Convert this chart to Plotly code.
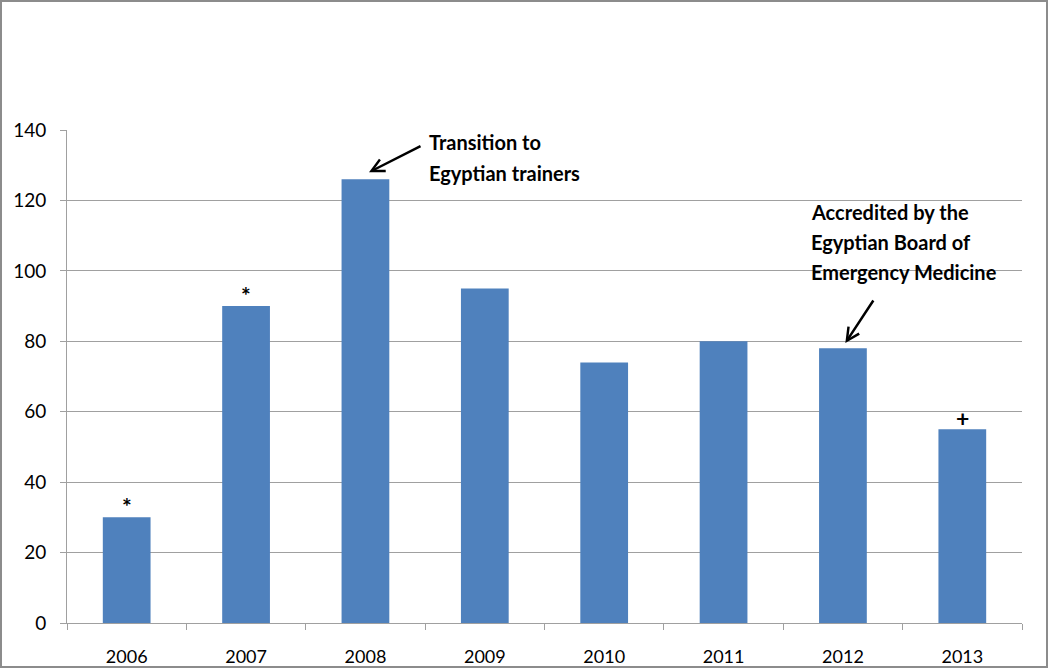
import plotly.graph_objects as go

years = ["2006", "2007", "2008", "2009", "2010", "2011", "2012", "2013"]
values = [30, 90, 126, 95, 74, 80, 78, 55]
marks = {"2006": "*", "2007": "*", "2013": "+"}
note1 = ["Transition to", "Egyptian trainers"]
note2 = ["Accredited by the", "Egyptian Board of", "Emergency Medicine"]

W, H = 1050, 669
ml, mr, mt, mb = 67, 28, 130, 46
pw, ph = W - ml - mr, H - mt - mb

def py(pix):  # pixel y -> paper y
    return (H - mb - pix) / ph

def px(pix):
    return (pix - ml) / pw

fig = go.Figure(go.Bar(x=years, y=values, marker=dict(color="#4F81BD", line=dict(width=0)), width=0.4))

font = "Lato, 'Open Sans', sans-serif"
ann = []
for yr, m in marks.items():
    v = values[years.index(yr)]
    ann.append(dict(x=years.index(yr), y=v, text=f"<b>{m}</b>", showarrow=False, yanchor="bottom",
                    yshift=-5, font=dict(size=23, color="black", family=font)))

# arrows
ann.append(dict(x=2.03, y=128, ax=53, ay=-27, text="", showarrow=True, arrowhead=5,
                arrowsize=1, arrowwidth=2.5, arrowcolor="black"))
ann.append(dict(x=6.02, y=79.5, ax=29, ay=-44, text="", showarrow=True, arrowhead=5,
                arrowsize=1, arrowwidth=2.5, arrowcolor="black"))
for i, line in enumerate(note1):
    ann.append(dict(xref="paper", yref="paper", x=px(427), y=py(142 + 31 * i), text=f"<b>{line}</b>",
                    showarrow=False, xanchor="left", yanchor="middle",
                    font=dict(size=20, color="black", family=font)))
for i, line in enumerate(note2):
    ann.append(dict(xref="paper", yref="paper", x=px(809), y=py(212 + 30 * i), text=f"<b>{line}</b>",
                    showarrow=False, xanchor="left", yanchor="middle",
                    font=dict(size=20, color="black", family=font)))

fig.update_layout(
    width=W, height=H,
    margin=dict(l=ml, r=mr, t=mt, b=mb),
    paper_bgcolor="white", plot_bgcolor="white",
    showlegend=False,
    font=dict(family=font, size=18, color="black"),
    annotations=ann,
    shapes=[dict(type="rect", xref="paper", yref="paper",
                 x0=px(1), x1=px(1047), y0=py(667), y1=py(1),
                 line=dict(color="#8c8c8c", width=2), fillcolor="rgba(0,0,0,0)", layer="below")],
)
fig.update_yaxes(range=[0, 140], dtick=20, showgrid=True, gridcolor="#a0a0a0", gridwidth=1,
                 showline=True, linecolor="#a0a0a0", linewidth=1, ticks="outside", ticklen=6,
                 tickcolor="#a0a0a0", zeroline=False, tickfont=dict(size=19), automargin=False,
                 ticklabelstandoff=10)
fig.update_xaxes(type="category", range=[-0.5, 7.5], showline=True, linecolor="#a0a0a0", linewidth=1,
                 ticks="outside", ticklen=6, tickangle=0,
                 tickcolor="#a0a0a0", tickson="boundaries", showgrid=False, tickfont=dict(size=18),
                 automargin=False, ticklabelstandoff=17)

fig.write_html("out.html", config={"displayModeBar": False},
               post_script="document.body.style.margin='0';document.body.style.overflow='hidden';")
